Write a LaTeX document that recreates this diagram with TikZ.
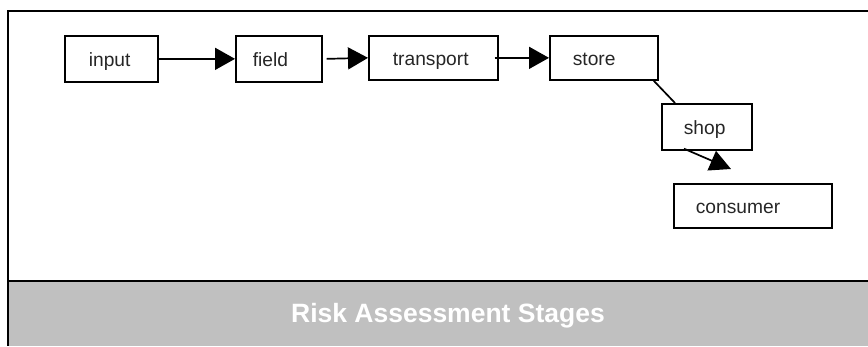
\documentclass[tikz,border=0pt]{standalone}
\usepackage{fontspec}
\setmainfont{Liberation Sans}
\usetikzlibrary{arrows.meta,calc}
\definecolor{bandgray}{HTML}{C0C0C0}
\begin{document}
\begin{tikzpicture}[x=1pt,y=-1pt,
  box/.style={draw, line width=1.7pt, align=left, anchor=north west,
    inner ysep=0pt, text height=18pt, text depth=2pt,
    font=\fontsize{19.2}{22}\selectfont, text=black!85},
  arr/.style={line width=1.7pt, -{Triangle[length=20pt,width=22pt]}},
  plain/.style={line width=1.7pt},
  frame/.style={line width=2.4pt}]
\useasboundingbox (0,0) rectangle (868,346);
\fill[bandgray] (8,281) rectangle (868,346);
\draw[frame] (868,11) -- (8,11) -- (8,346);
\draw[frame] (8,281) -- (868,281);
\node[font=\bfseries\fontsize{26.5}{30}\selectfont, text=white, anchor=base] (title) at (448,322) {Risk Assessment Stages};

\node[box, text width=45pt, inner xsep=24pt, minimum height=46pt] (input) at (64,35) {input};
\node[box, text width=52pt, inner xsep=17pt, minimum height=46pt] (field) at (235,35) {field};
\node[box, text width=81pt, inner xsep=24pt, minimum height=44pt] (transport) at (368,35) {transport};
\node[box, text width=62pt, inner xsep=23pt, minimum height=44pt] (store) at (549,35) {store};
\node[box, text width=46pt, inner xsep=22pt, minimum height=46pt] (shop) at (661,103) {shop};
\node[box, text width=114pt, inner xsep=22pt, minimum height=44pt] (consumer) at (673,183) {consumer};

\draw[arr] (input.east) -- (field.west);
\draw[arr] ($(field.east)+(4,0)$) -- (transport.west);
\draw[arr] ($(transport.east)+(-4,0)$) -- (store.west);
\draw[plain] ($(store.south east)+(-5,0)$) -- ($(shop.north west)+(14,0)$);
\coordinate (tip) at (731,169);
\draw[line width=1.7pt, -{Triangle[length=21pt,width=21pt]}] ($(shop.south west)+(23,-2)$) -- (tip);
\end{tikzpicture}
\end{document}
